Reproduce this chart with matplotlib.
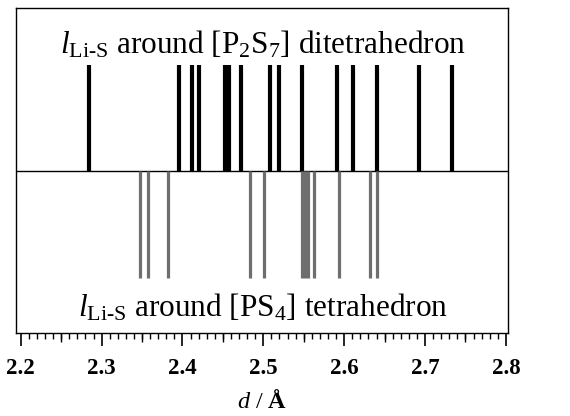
import matplotlib
matplotlib.use("Agg")
import matplotlib.pyplot as plt
from matplotlib.ticker import MultipleLocator

# Li-S distances around [P2S7] ditetrahedron (upward, black)
d_p2s7 = [2.284, 2.396, 2.412, 2.420, 2.453, 2.457, 2.472, 2.508, 2.520,
          2.548, 2.591, 2.611, 2.640, 2.693, 2.734]
# Li-S distances around [PS4] tetrahedron (downward, grey)
d_ps4 = [2.348, 2.357, 2.382, 2.483, 2.501, 2.548, 2.551, 2.555, 2.563,
         2.593, 2.632, 2.640]

xticks = [2.2, 2.3, 2.4, 2.5, 2.6, 2.7, 2.8]
xticklabels = ["2.2", "2.3", "2.4", "2.5", "2.6", "2.7", "2.8"]
mid_ticks = [2.25, 2.35, 2.45, 2.55, 2.65, 2.75]

plt.rcParams['mathtext.fontset'] = 'custom'
plt.rcParams['mathtext.rm'] = 'Liberation Serif'
plt.rcParams['mathtext.it'] = 'Liberation Serif:italic'
plt.rcParams['mathtext.bf'] = 'Liberation Serif:bold'
plt.rcParams['font.family'] = ['Liberation Serif', 'DejaVu Serif']

fig = plt.figure(figsize=(5.70, 4.16), dpi=100)
ax = fig.add_axes([0.028, 0.2, 0.863, 0.781])

ax.vlines(d_p2s7, 0, 1, colors='black', linewidth=3.0)
ax.vlines(d_ps4, -1, 0, colors='#6e6e6e', linewidth=2.3)
ax.axhline(0, color='black', linewidth=1.0, zorder=0)

ax.set_xlim(2.194, 2.8025)
ax.set_ylim(-1.51, 1.53)
ax.set_yticks([])
ax.set_xticks(xticks)
ax.set_xticklabels(xticklabels, fontsize=16.5, fontweight='bold')
ax.xaxis.set_minor_locator(MultipleLocator(0.01))
ax.tick_params(axis='x', which='major', direction='out', length=9, width=1.2, pad=9)
ax.tick_params(axis='x', which='minor', direction='out', length=4, width=1.0)
for s in ax.spines.values():
    s.set_linewidth(1.0)

sec = ax.secondary_xaxis('bottom')
sec.set_xticks(mid_ticks)
sec.set_xticklabels([])
sec.tick_params(axis='x', which='major', direction='out', length=6.5, width=1.0)
sec.tick_params(axis='x', which='minor', length=0)
sec.spines['bottom'].set_visible(False)

ax.text(2.5, 1.10, r"$\mathit{l}_{\mathrm{Li\text{-}S}}$ around [P$_2$S$_7$] ditetrahedron",
        ha='center', va='baseline', fontsize=22.5)
ax.text(2.5, -1.36, r"$\mathit{l}_{\mathrm{Li\text{-}S}}$ around [PS$_4$] tetrahedron",
        ha='center', va='baseline', fontsize=22.5)

ax.set_xlabel(r"$\mathit{d}$ / $\mathbf{Å}$", fontsize=17.5, labelpad=8)

fig.savefig("out.png", dpi=100)
